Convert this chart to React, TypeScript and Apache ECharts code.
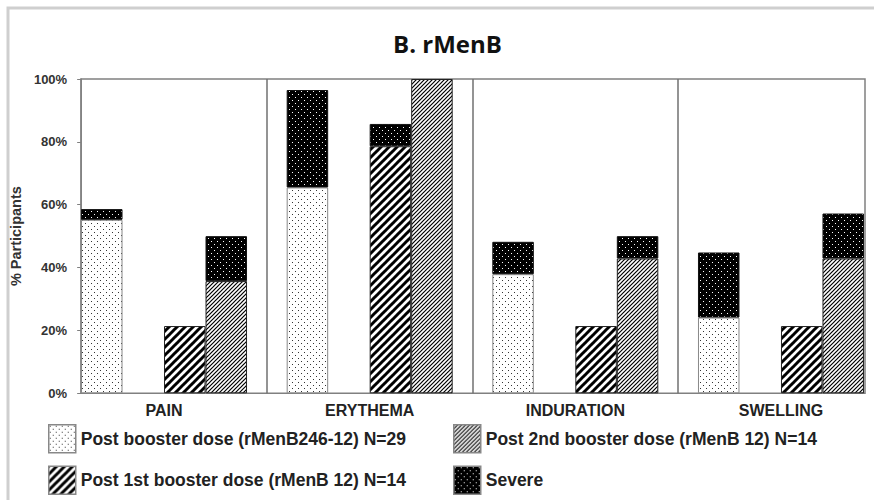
import React, { useEffect, useRef } from "react";
import * as echarts from "echarts";

const categories = ["PAIN", "ERYTHEMA", "INDURATION", "SWELLING"];
const boosterValues = [55.2, 65.5, 37.9, 24.1];
const boosterSevere = [3.4, 31.0, 10.3, 20.7];
const firstBoosterValues = [21.4, 78.6, 21.4, 21.4];
const firstBoosterSevere = [0, 7.1, 0, 0];
const secondBoosterValues = [35.7, 100, 42.9, 42.9];
const secondBoosterSevere = [14.3, 0, 7.1, 14.3];
const yTicks = [0, 20, 40, 60, 80, 100];
const seriesNames = [
  "Post booster dose (rMenB246-12) N=29",
  "Post 1st booster dose (rMenB 12) N=14",
  "Post 2nd booster dose (rMenB 12) N=14",
  "Severe",
];
const titleText = "B. rMenB";
const yAxisTitle = "% Participants";

function tile(size: number, bg: string, draw: (ctx: CanvasRenderingContext2D) => void) {
  const c = document.createElement("canvas");
  c.width = size;
  c.height = size;
  const ctx = c.getContext("2d") as CanvasRenderingContext2D;
  ctx.fillStyle = bg;
  ctx.fillRect(0, 0, size, size);
  draw(ctx);
  return { image: c, repeat: "repeat", imageWidth: size, imageHeight: size };
}

function stripes(size: number, width: number) {
  return tile(size, "#fff", (ctx) => {
    ctx.strokeStyle = "#000";
    ctx.lineWidth = width;
    for (const k of [0, size, 2 * size]) {
      ctx.beginPath();
      ctx.moveTo(-1, k + 1);
      ctx.lineTo(size + 1, k - size - 1);
      ctx.stroke();
    }
  });
}

export default function App() {
  const ref = useRef<HTMLDivElement>(null);
  useEffect(() => {
    if (!ref.current) return;
    const chart = echarts.init(ref.current, null, { renderer: "svg" });

    const dotPattern = tile(6, "#fff", (ctx) => {
      ctx.fillStyle = "#333";
      ctx.fillRect(1, 1, 1, 1);
      ctx.fillRect(4, 4, 1, 1);
    });
    const severePattern = tile(6, "#000", (ctx) => {
      ctx.fillStyle = "#fff";
      ctx.fillRect(1, 1, 1, 1);
      ctx.fillRect(4, 4, 1, 1);
    });
    const widePattern = stripes(8, 3);
    const finePattern = stripes(4, 1.2);

    const nz = (arr: number[]) => arr.map((v) => (v === 0 ? null : v));
    const barW = 41.5;
    const common = {
      type: "bar",
      xAxisIndex: 1,
      yAxisIndex: 1,
      barWidth: barW,
      barGap: "0%",
      silent: true,
    };
    const severeStyle = { color: severePattern, borderColor: "#111", borderWidth: 1 };

    const font = "'Liberation Sans', Arial, sans-serif";
    const legendBase = {
      orient: "vertical",
      top: 424,
      padding: 0,
      height: 76,
      itemWidth: 27,
      itemHeight: 28,
      itemGap: 12,
      icon: "rect",
      selectedMode: false,
      itemStyle: { borderColor: "#888", borderWidth: 1.5 },
      textStyle: { fontFamily: font, fontWeight: "bold", fontSize: 17.5, color: "#222" },
    };

    const option: any = {
      animation: false,
      backgroundColor: "#fff",
      graphic: [
        {
          type: "rect",
          silent: true,
          z: -10,
          shape: { x: 8, y: 8, width: 900, height: 600 },
          style: { fill: "none", stroke: "#cfcfcf", lineWidth: 3 },
        },
        {
          type: "text",
          silent: true,
          style: {
            text: titleText,
            x: 447.5,
            y: 43.5,
            align: "center",
            verticalAlign: "middle",
            fontFamily: "'Open Sans', sans-serif",
            fontWeight: "bold",
            fontSize: 24,
            fill: "#111",
          },
        },
      ],
      grid: [
        {
          left: 80,
          right: 9,
          top: 79,
          bottom: 106.7,
          show: true,
          borderColor: "#808080",
          borderWidth: 1.5,
          backgroundColor: "transparent",
        },
        {
          left: 61.2,
          right: -9.8,
          top: 79,
          bottom: 106.7,
          outerBoundsMode: "none",
        },
      ],
      xAxis: [
        { type: "category", gridIndex: 0, data: categories, show: false },
        {
          type: "category",
          gridIndex: 1,
          data: categories,
          axisLine: { show: false },
          axisTick: { show: false },
          axisLabel: {
            margin: 9,
            fontFamily: font,
            fontWeight: "bold",
            fontSize: 16,
            color: "#222",
          },
          splitLine: {
            show: true,
            showMinLine: false,
            showMaxLine: false,
            lineStyle: { color: "#707070", width: 1.5 },
          },
        },
      ],
      yAxis: [
        {
          type: "value",
          gridIndex: 0,
          min: yTicks[0],
          max: yTicks[yTicks.length - 1],
          interval: yTicks[1] - yTicks[0],
          name: yAxisTitle,
          nameLocation: "middle",
          nameGap: 50,
          nameTextStyle: { fontFamily: font, fontWeight: "bold", fontSize: 14.5, color: "#333" },
          axisLine: { show: true, lineStyle: { color: "#808080", width: 1.5 } },
          axisTick: { show: true, length: 4, lineStyle: { color: "#808080" } },
          axisLabel: {
            formatter: "{value}%",
            margin: 14,
            fontFamily: font,
            fontWeight: "bold",
            fontSize: 13,
            color: "#333",
          },
          splitLine: { show: false },
        },
        {
          type: "value",
          gridIndex: 1,
          min: yTicks[0],
          max: yTicks[yTicks.length - 1],
          show: false,
          splitLine: { show: false },
        },
      ],
      legend: [
        { ...legendBase, data: [seriesNames[0], seriesNames[1]], left: 48 },
        { ...legendBase, data: [seriesNames[2], seriesNames[3]], left: 453 },
      ],
      series: [
        {
          ...common,
          name: seriesNames[0],
          stack: "booster",
          data: boosterValues,
          itemStyle: { color: dotPattern, borderColor: "#888", borderWidth: 1 },
        },
        { ...common, name: seriesNames[3], stack: "booster", data: nz(boosterSevere), itemStyle: severeStyle },
        {
          ...common,
          name: "gap",
          stack: "gap",
          data: categories.map(() => null),
        },
        {
          ...common,
          name: seriesNames[1],
          stack: "first",
          data: firstBoosterValues,
          itemStyle: { color: widePattern, borderColor: "#222", borderWidth: 1 },
        },
        { ...common, name: seriesNames[3], stack: "first", data: nz(firstBoosterSevere), itemStyle: severeStyle },
        {
          ...common,
          name: seriesNames[2],
          stack: "second",
          data: secondBoosterValues,
          itemStyle: { color: finePattern, borderColor: "#222", borderWidth: 1 },
        },
        { ...common, name: seriesNames[3], stack: "second", data: nz(secondBoosterSevere), itemStyle: severeStyle },
      ],
    };
    chart.setOption(option);
    return () => chart.dispose();
  }, []);
  return (
    <div
      ref={ref}
      style={{ position: "absolute", left: 0, top: 0, width: 874, height: 500, background: "#fff" }}
    />
  );
}
